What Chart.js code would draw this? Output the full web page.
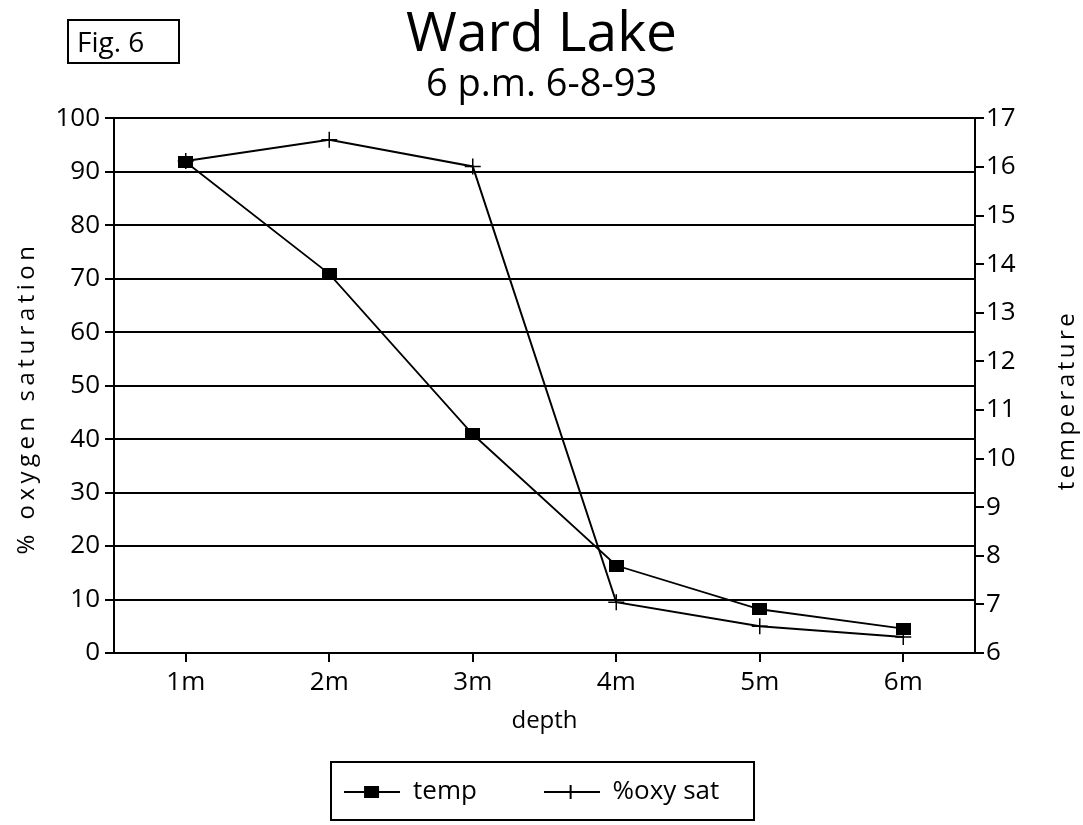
<!DOCTYPE html>
<html>
<head>
<meta charset="utf-8">
<title>Ward Lake</title>
<script src="https://cdn.jsdelivr.net/npm/chart.js@4.4.0/dist/chart.umd.min.js"></script>
<style>
  html, body { margin: 0; padding: 0; background: #fff; }
  #wrap { position: relative; width: 1083px; height: 825px; }
  #fig {
    position: absolute; left: 67px; top: 19px; width: 113px; height: 45px;
    border: 2px solid #000; font: 28px 'Open Sans', sans-serif; color: #000;
    line-height: 41px; padding-left: 8px; box-sizing: border-box;
  }
</style>
</head>
<body>
<div id="wrap">
  <canvas id="lakeChart" width="1083" height="825"></canvas>
  <div id="fig">Fig. 6</div>
</div>
<script>
// Ward Lake depth profile, 6 p.m. 6-8-93
const depths = ['1m', '2m', '3m', '4m', '5m', '6m'];
const tempValues = [16.1, 13.8, 10.5, 7.8, 6.9, 6.5];
const oxySatValues = [92, 96, 91, 9.5, 5, 3];
const oxyTicks = [0, 10, 20, 30, 40, 50, 60, 70, 80, 90, 100];
const tempTicks = [6, 7, 8, 9, 10, 11, 12, 13, 14, 15, 16, 17];

const FONT = "'Open Sans', sans-serif";

// filled block marker, a bit wider than tall like the plotter's
function blockMarker() {
  const c = document.createElement('canvas');
  c.width = 15; c.height = 12;
  const g = c.getContext('2d');
  g.fillStyle = '#000';
  g.fillRect(0, 0, 15, 12);
  return c;
}

// little line+marker pictures for the legend
function legendIcon(kind) {
  const c = document.createElement('canvas');
  c.width = 56; c.height = 20;
  const g = c.getContext('2d');
  g.strokeStyle = '#000';
  g.fillStyle = '#000';
  g.lineWidth = 2;
  g.beginPath(); g.moveTo(0, 10); g.lineTo(56, 10); g.stroke();
  if (kind === 'rect') {
    g.fillRect(20, 4, 15, 12);
  } else {
    g.beginPath(); g.moveTo(27, 3); g.lineTo(27, 17); g.stroke();
  }
  return c;
}
const icons = [legendIcon('rect'), legendIcon('cross')];

// box round the legend items
const legendBox = {
  id: 'legendBox',
  afterDraw(chart) {
    const l = chart.legend;
    if (!l || !l.legendHitBoxes.length) return;
    const first = l.legendHitBoxes[0];
    const x0 = first.left - 13;
    const cy = first.top + first.height / 2;
    const g = chart.ctx;
    g.save();
    g.strokeStyle = '#000';
    g.lineWidth = 2;
    g.strokeRect(x0, cy - 30, 423, 58);
    g.restore();
  }
};

// axis titles with the plotter's wide letter spacing, both read bottom-to-top
const sideTitles = {
  id: 'sideTitles',
  afterDraw(chart) {
    const g = chart.ctx;
    const put = (text, x, y, spacing) => {
      g.save();
      g.translate(x, y);
      g.rotate(-Math.PI / 2);
      g.font = '24px ' + FONT;
      g.fillStyle = '#000';
      g.textAlign = 'center';
      g.textBaseline = 'middle';
      g.letterSpacing = spacing;
      g.fillText(text, 0, 0);
      g.restore();
    };
    put('% oxygen saturation', 27, 398, '4.5px');
    put('temperature', 1067, 400, '3.5px');
  }
};

const ctx = document.getElementById('lakeChart').getContext('2d');

const lakeChart = new Chart(ctx, {
  type: 'line',
  data: {
    labels: depths,
    datasets: [
      {
        label: 'temp',
        data: tempValues,
        yAxisID: 'y1',
        borderColor: '#000',
        backgroundColor: '#000',
        borderWidth: 1.8,
        pointStyle: blockMarker(),
        pointRadius: 8,
        tension: 0
      },
      {
        label: '%oxy sat',
        data: oxySatValues,
        yAxisID: 'y',
        borderColor: '#000',
        backgroundColor: '#000',
        borderWidth: 2,
        pointStyle: 'cross',
        pointRadius: 8,
        pointBorderWidth: 1.5,
        tension: 0
      }
    ]
  },
  options: {
    responsive: false,
    animation: false,
    layout: { padding: { left: 0, right: 0, top: 0, bottom: 10 } },
    plugins: {
      title: {
        display: true,
        text: 'Ward Lake',
        color: '#000',
        font: { family: FONT, size: 55, weight: 'normal', lineHeight: 1.064 },
        padding: { top: 6, bottom: 0 }
      },
      subtitle: {
        display: true,
        text: '6 p.m. 6-8-93',
        color: '#000',
        font: { family: FONT, size: 38, weight: 'normal', lineHeight: 1.1 },
        padding: { top: 0, bottom: 12 }
      },
      legend: {
        position: 'bottom',
        labels: {
          color: '#000',
          font: { family: FONT, size: 26 },
          usePointStyle: true,
          pointStyleWidth: 56,
          padding: 8,
          generateLabels(chart) {
            return chart.data.datasets.map((ds, i) => ({
              // extra spaces keep the wide gap between entries and the off-centre placement
              text: i === 0 ? ds.label + '\u2003\u2003 ' : ds.label + '\u2002 ',
              pointStyle: icons[i],
              fontColor: '#000',
              lineWidth: 0,
              strokeStyle: '#000',
              fillStyle: '#000',
              datasetIndex: i
            }));
          }
        }
      },
      tooltip: { enabled: false }
    },
    scales: {
      x: {
        offset: true,
        afterFit(axis) { axis.height = 118; },
        grid: {
          offset: false,
          drawOnChartArea: false,
          drawTicks: true,
          tickLength: 9,
          color: '#000',
          lineWidth: 2
        },
        border: { color: '#000', width: 2 },
        ticks: { color: '#000', font: { family: FONT, size: 26 }, padding: 5 },
        title: {
          display: true,
          text: 'depth',
          color: '#000',
          font: { family: FONT, size: 24 },
          padding: { top: 8, bottom: 35 }
        }
      },
      y: {
        position: 'left',
        min: oxyTicks[0],
        max: oxyTicks[oxyTicks.length - 1],
        afterFit(axis) { axis.width = 114; },
        afterBuildTicks(axis) { axis.ticks = oxyTicks.map(v => ({ value: v })); },
        grid: { color: '#000', lineWidth: 2, tickLength: 9 },
        border: { color: '#000', width: 2 },
        ticks: { color: '#000', font: { family: FONT, size: 26 }, padding: 5 }
      },
      y1: {
        position: 'right',
        min: tempTicks[0],
        max: tempTicks[tempTicks.length - 1],
        afterFit(axis) { axis.width = 108; },
        afterBuildTicks(axis) { axis.ticks = tempTicks.map(v => ({ value: v })); },
        grid: { drawOnChartArea: false, color: '#000', lineWidth: 2, tickLength: 9 },
        border: { color: '#000', width: 2 },
        ticks: { color: '#000', font: { family: FONT, size: 26 }, padding: 2 }
      }
    }
  },
  plugins: [legendBox, sideTitles]
});
</script>
</body>
</html>
